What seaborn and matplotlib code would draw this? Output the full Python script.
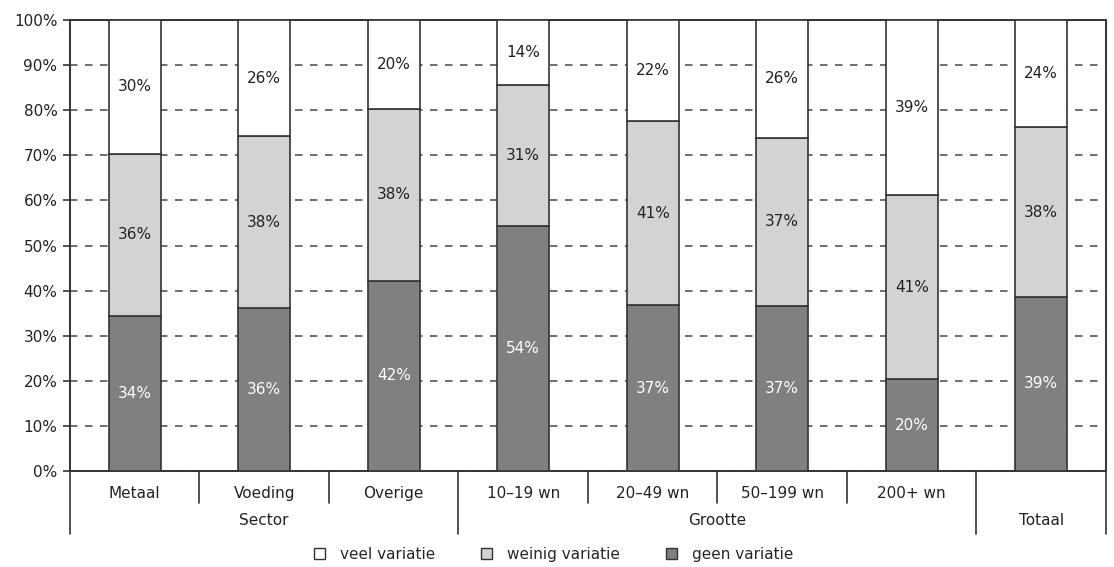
import matplotlib
matplotlib.use("Agg")
import matplotlib.pyplot as plt
from matplotlib.patches import Patch
import seaborn as sns
import pandas as pd

# Share of companies (%) per category, stacked from bottom to top
categories = ["Metaal", "Voeding", "Overige", "10–19 wn", "20–49 wn",
              "50–199 wn", "200+ wn", "Totaal"]
tick_labels = ["Metaal", "Voeding", "Overige", "10–19 wn", "20–49 wn",
               "50–199 wn", "200+ wn", ""]
geen_variatie = [34.4, 36.2, 42.2, 54.4, 36.8, 36.6, 20.4, 38.6]
weinig_variatie = [36.0, 38.0, 38.1, 31.2, 40.8, 37.3, 40.7, 37.6]
veel_variatie = [29.6, 25.8, 19.7, 14.4, 22.4, 26.1, 38.9, 23.8]
groups = [("Sector", 0, 2), ("Grootte", 3, 6), ("Totaal", 7, 7)]
yticks = [0, 10, 20, 30, 40, 50, 60, 70, 80, 90, 100]

sns.set_style("white")
plt.rcParams["font.family"] = ["DejaVu Sans"]

fig = plt.figure(figsize=(11.14, 5.67), dpi=100)
ax = fig.add_axes([0.0628, 0.1693, 0.9300, 0.7954])

df = pd.DataFrame({"cat": categories, "geen": geen_variatie,
                   "weinig": weinig_variatie, "veel": veel_variatie})
df["b2"] = df["geen"] + df["weinig"]

edge = "#333333"
colors = {"veel": "#ffffff", "weinig": "#d3d3d5", "geen": "#808083"}
layers = [("geen", None, "geen variatie"),
          ("weinig", "geen", "weinig variatie"),
          ("veel", "b2", "veel variatie")]
for col, base, lab in layers:
    bottom = 0 if base is None else df[base]
    sns.barplot(data=df, x="cat", y=col, bottom=bottom, color=colors[col],
                width=0.4, edgecolor=edge, linewidth=1.2, saturation=1,
                ax=ax, order=categories, zorder=3)

# value labels centred in each segment
for i in range(len(categories)):
    g, w, v = geen_variatie[i], weinig_variatie[i], veel_variatie[i]
    ax.text(i, g / 2, f"{g:.0f}%", ha="center", va="center",
            color="white", fontsize=11, zorder=4)
    ax.text(i, g + w / 2, f"{w:.0f}%", ha="center", va="center",
            color="#222222", fontsize=11, zorder=4)
    ax.text(i, g + w + v / 2, f"{v:.0f}%", ha="center", va="center",
            color="#222222", fontsize=11, zorder=4)

ax.set_xlim(-0.5, len(categories) - 0.5)
ax.set_ylim(0, 100)
ax.set_yticks(yticks)
ax.set_yticklabels([f"{t}%" for t in yticks], fontsize=11, color="#222222")
ax.tick_params(axis="y", length=5, width=1.2, color=edge, left=True, pad=4)
ax.set_xticks([])
ax.set_xlabel("")
ax.set_ylabel("")
for s in ax.spines.values():
    s.set_visible(True)
    s.set_color(edge)
    s.set_linewidth(1.4)

ax.set_axisbelow(True)
ax.yaxis.grid(True, linestyle=(0, (4.5, 4.5)), color="#555555", linewidth=1.2)

# two-level category axis
xt = ax.get_xaxis_transform()
for i, lab in enumerate(tick_labels):
    if lab:
        ax.text(i, -0.05, lab, transform=xt, ha="center", va="center",
                fontsize=11, color="#222222")
major = {-0.5}
for name, a, b in groups:
    major.add(b + 0.5)
    ax.text((a + b) / 2, -0.11, name, transform=xt, ha="center",
            va="center", fontsize=11, color="#222222")
for k in range(len(categories) + 1):
    x = k - 0.5
    y1 = -0.14 if x in major else -0.072
    ax.plot([x, x], [0, y1], transform=xt, color=edge, lw=1.2,
            clip_on=False)

handles = [Patch(facecolor=colors[c], edgecolor=edge, linewidth=1.0, label=l)
           for c, _, l in reversed(layers)]
fig.legend(handles=handles, loc="center", bbox_to_anchor=(0.497, 0.022),
           ncol=3, frameon=False, fontsize=11, handlelength=0.7,
           handleheight=0.7, columnspacing=3.0, handletextpad=1.0)

fig.savefig("out.png", dpi=100)
